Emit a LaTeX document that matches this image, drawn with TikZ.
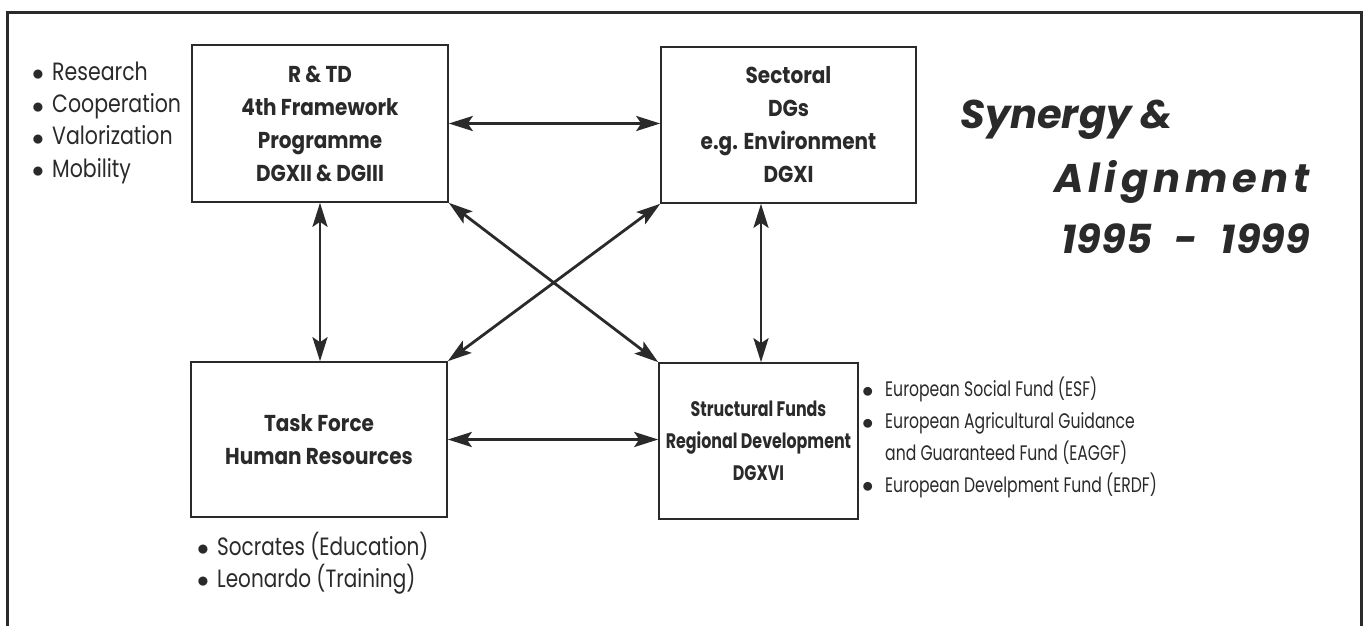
\documentclass[tikz,border=0pt]{standalone}
\usepackage{fontspec}
\setmainfont{Poppins}
\usetikzlibrary{arrows.meta}
\definecolor{ink}{HTML}{2A2A2A}
\newcommand{\bul}[2]{\makebox[#1][l]{\raisebox{-0.03em}{\scalebox{#2}{$\bullet$}}}}
\begin{document}
\begin{tikzpicture}[x=1pt,y=-1pt,
  box/.style={draw=ink, line width=1.6pt, inner sep=0pt, align=center, text=ink,
    font=\fontsize{23}{33}\selectfont\bfseries\addfontfeature{FakeStretch=0.87}},
  conn/.style={draw=ink, line width=2.8pt,
    {Stealth[length=24pt,width=15pt,inset=5pt]}-{Stealth[length=24pt,width=15pt,inset=5pt]}},
  blist/.style={anchor=base west, align=left, inner sep=0pt, text=ink},
  ttl/.style={inner sep=0pt, text=ink, font=\fontsize{40}{44}\selectfont\bfseries\itshape}
]
\useasboundingbox (0,0) rectangle (1370,626);
\fill[white] (0,0) rectangle (1370,626);
\draw[ink, line width=3pt] (7,626) -- (7,13) -- (1361,13) -- (1361,626);

\node[box, minimum width=256pt, minimum height=157pt] (b1) at (320,123.5)
  {R \& TD\\4th Framework\\Programme\\DGXII \& DGIII};
\node[box, minimum width=255pt, minimum height=156pt] (b2) at (788.5,125)
  {Sectoral\\DGs\\e.g. Environment\\DGXI};
\node[box, minimum width=256pt, minimum height=155pt] (b3) at (319,439.5)
  {Task Force\\Human Resources};
\node[box, minimum width=199pt, minimum height=156pt,
  font=\fontsize{21}{32}\selectfont\bfseries\addfontfeature{FakeStretch=0.755}] (b4) at (758.5,441)
  {Structural Funds\\Regional Development\\DGXVI};

\draw[conn] (b1.east) -- (b1.east -| b2.west);
\draw[conn] (b3.east) -- (b3.east -| b4.west);
\draw[conn] (b1.south) -- (b1.south |- b3.north);
\draw[conn] ([xshift=2.5pt]b4.north |- b2.south) -- ([xshift=2.5pt]b4.north);
\draw[conn] (b1.south east) -- (b4.north west);
\draw[conn] (b2.south west) -- (b3.north east);

\node[blist, font=\fontsize{25}{32.3}\selectfont\addfontfeature{FakeStretch=0.82}] (l1) at (32,177)
  {\bul{20pt}{0.95}Research\\
   \bul{20pt}{0.95}Cooperation\\
   \bul{20pt}{0.95}Valorization\\
   \bul{20pt}{0.95}Mobility};
\node[blist, font=\fontsize{25}{32}\selectfont\addfontfeature{FakeStretch=0.8}] (l2) at (197,587)
  {\bul{20pt}{0.95}Socrates (Education)\\
   \bul{20pt}{0.95}Leonardo (Training)};
\node[blist, font=\fontsize{21}{31.7}\selectfont\addfontfeature{FakeStretch=0.745}] (l3) at (862,492)
  {\bul{23pt}{1.1}European Social Fund (ESF)\\
   \bul{23pt}{1.1}European Agricultural Guidance\\
   \hspace*{23pt}and Guaranteed Fund (EAGGF)\\
   \bul{23pt}{1.1}European Develpment Fund (ERDF)};

\node[ttl, anchor=base west] (t1) at (960,128) {Synergy \&};
\node[ttl, anchor=base east] (t2) at (1310,192) {\addfontfeature{LetterSpace=12}Alignment};
\node[ttl, anchor=base east] (t3) at (1310,253) {1995\hspace{0.57em}-\hspace{0.57em}1999};
\end{tikzpicture}
\end{document}
